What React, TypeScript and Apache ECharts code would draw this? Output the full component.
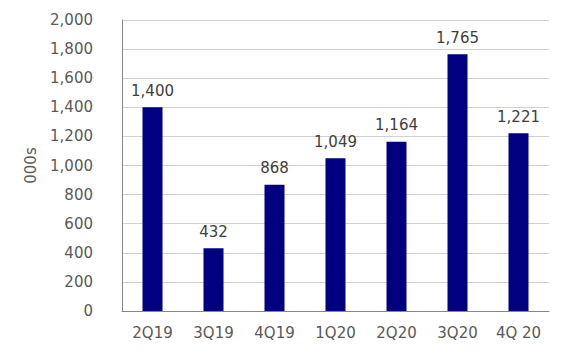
import React, { useEffect, useRef } from "react";
import * as echarts from "echarts";

const categories = ["2Q19", "3Q19", "4Q19", "1Q20", "2Q20", "3Q20", "4Q 20"];
const values = [1400, 432, 868, 1049, 1164, 1765, 1221];
const axisName = "000s";

const FONT = "DejaVu Sans";

export default function App() {
  const ref = useRef<HTMLDivElement>(null);
  useEffect(() => {
    if (!ref.current) return;
    const chart = echarts.init(ref.current, undefined, { renderer: "svg" });
    chart.setOption({
      animation: false,
      backgroundColor: "#ffffff",
      grid: { left: 122, right: 21, top: 20, bottom: 46, containLabel: false },
      xAxis: {
        type: "category",
        data: categories,
        axisLine: { show: true, lineStyle: { color: "#868686", width: 1 } },
        axisTick: { show: false },
        axisLabel: { color: "#595959", fontFamily: FONT, fontSize: 15, margin: 14 },
      },
      yAxis: {
        type: "value",
        min: 0,
        max: 2000,
        interval: 200,
        name: axisName,
        nameLocation: "middle",
        nameGap: 84,
        nameRotate: 90,
        nameTextStyle: { color: "#595959", fontFamily: FONT, fontSize: 15 },
        axisLine: { show: true, lineStyle: { color: "#868686", width: 1 } },
        axisTick: { show: false },
        splitLine: { show: true, lineStyle: { color: "#d0d0d0", width: 1 } },
        axisLabel: {
          color: "#595959",
          fontFamily: FONT,
          fontSize: 15,
          margin: 29,
          formatter: (v: number) => v.toLocaleString("en-US"),
        },
      },
      series: [
        {
          type: "bar",
          data: values,
          barWidth: 20,
          itemStyle: { color: "#000080" },
          label: {
            show: true,
            position: "top",
            distance: 9,
            color: "#404040",
            fontFamily: FONT,
            fontSize: 15,
            formatter: (p: any) => Number(p.value).toLocaleString("en-US"),
          },
        },
      ],
    });
    return () => chart.dispose();
  }, []);
  return <div ref={ref} style={{ width: 570, height: 357, position: "absolute", left: 0, top: 0 }} />;
}
